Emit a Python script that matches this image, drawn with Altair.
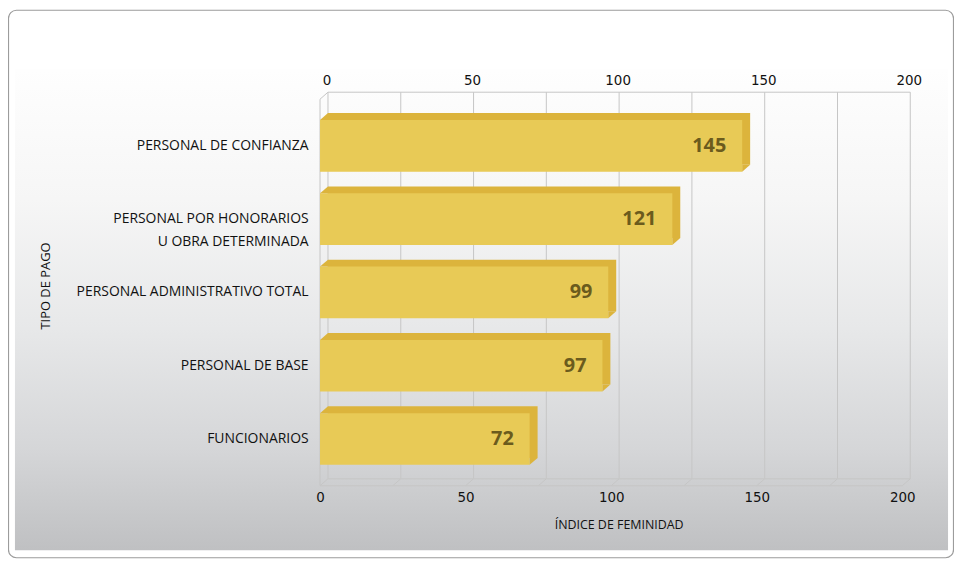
import altair as alt
import pandas as pd

# ---- data ----
categories = [
    "Personal de confianza",
    "Personal por honorarios|u obra determinada",
    "Personal administrativo total",
    "Personal de base",
    "Funcionarios",
]
values = [145, 121, 99, 97, 72]
label_ticks = [0, 50, 100, 150, 200]
grid_ticks = [0, 25, 50, 75, 100, 125, 150, 175, 200]
x_title = "Índice de feminidad"
y_title = "Tipo de pago"

# ---- styling ----
W, H = 586, 389
DX, DY = 8, -7
FRONT = "#e8ca56"
BACK = "#dcb43c"
GRID = "#c6c6c6"
VALUE_COL = "#6b5b1d"
TXT = "#111111"
FONT = "Open Sans"
NUMFONT = "Liberation Sans Narrow, DejaVu Sans Condensed, Roboto"

bars = pd.DataFrame({"tipo": categories, "indice": values})
grid = pd.DataFrame({"t": grid_ticks})
ticks = pd.DataFrame({"t": label_ticks})
one = pd.DataFrame({"k": [0]})
titles_y = pd.DataFrame({"t": [y_title]})
titles_x = pd.DataFrame({"t": [x_title]})

xscale = alt.Scale(domain=[0, 200], nice=False, zero=True)
yscale = alt.Scale(paddingInner=0.295, paddingOuter=0.285)

XAXIS = alt.Axis(
    orient="bottom", values=label_ticks, domain=False, ticks=False, grid=False,
    labelFont=NUMFONT, labelFontSize=15, labelColor=TXT, labelPadding=4,
    labelFlush=False, title=None, zindex=2,
)
YAXIS = alt.Axis(
    orient="left", domain=False, ticks=False, grid=False,
    labelFont=FONT, labelFontSize=14, labelColor=TXT, labelPadding=12,
    labelExpr="split(upper(datum.label), '|')", labelLineHeight=23,
    labelLimit=400, labelBaseline="middle", title=None, zindex=2,
)


def X(field):
    return alt.X(field, scale=xscale, axis=XAXIS, title=None)


def X0(v):
    return alt.X(datum=v, scale=xscale, axis=XAXIS, title=None)


def Yc(**kw):
    return alt.Y("tipo:N", sort=categories, scale=yscale, axis=YAXIS, title=None, **kw)


panel = alt.Chart(one).mark_rect(
    fill=alt.Gradient(
        gradient="linear",
        stops=[
            alt.GradientStop(color="#fefefe", offset=0),
            alt.GradientStop(color="#f6f6f6", offset=0.27),
            alt.GradientStop(color="#e7e8e9", offset=0.54),
            alt.GradientStop(color="#d5d6d8", offset=0.79),
            alt.GradientStop(color="#bfc0c2", offset=1),
        ],
        x1=0, x2=0, y1=0, y2=1,
    )
).encode(x=alt.value(-307), x2=alt.value(632), y=alt.value(-30), y2=alt.value(454))

frame = alt.Chart(one).mark_rect(
    fill="transparent", stroke="#9c9c9c", strokeWidth=1.2, cornerRadius=8
).encode(x=alt.value(-313.5), x2=alt.value(637.5), y=alt.value(-89.5), y2=alt.value(461.5))

# back wall gridlines
wall = alt.Chart(grid).mark_rule(color=GRID, strokeWidth=1, xOffset=DX).encode(
    x=X("t:Q"), y=alt.value(DY), y2=alt.value(H + DY)
)
# floor diagonals
floor = alt.Chart(grid).mark_rule(color=GRID, strokeWidth=1, xOffset=DX, x2Offset=0).encode(
    x=X("t:Q"), x2=alt.X2("t"), y=alt.value(H + DY), y2=alt.value(H)
)
# box edges
edge_top = alt.Chart(one).mark_rule(color=GRID, xOffset=DX, x2Offset=DX).encode(
    x=X0(0), x2=alt.X2(datum=200), y=alt.value(DY)
)
edge_backfloor = alt.Chart(one).mark_rule(color=GRID, xOffset=DX, x2Offset=DX).encode(
    x=X0(0), x2=alt.X2(datum=200), y=alt.value(H + DY)
)
edge_frontfloor = alt.Chart(one).mark_rule(color=GRID).encode(
    x=X0(0), x2=alt.X2(datum=200), y=alt.value(H)
)
edge_left = alt.Chart(one).mark_rule(color=GRID).encode(
    x=X0(0), y=alt.value(0), y2=alt.value(H)
)
edge_diag = alt.Chart(one).mark_rule(color=GRID, xOffset=0, x2Offset=DX).encode(
    x=X0(0), x2=alt.X2(datum=0), y=alt.value(0), y2=alt.value(DY)
)

back_bar = alt.Chart(bars).mark_bar(
    color=BACK, xOffset=DX, x2Offset=DX, yOffset=DY, y2Offset=DY
).encode(x=X("indice:Q"), y=Yc())

front_bar = alt.Chart(bars).mark_bar(color=FRONT).encode(x=X("indice:Q"), y=Yc())

tri_tl = alt.Chart(bars).mark_point(
    shape="M -1 0.875 L 1 -0.875 L 1 0.875 Z", size=64, filled=True, opacity=1,
    color=BACK, strokeWidth=0, xOffset=DX / 2, yOffset=DY / 2,
).encode(x=X0(0), y=Yc(bandPosition=0))

tri_br = alt.Chart(bars).mark_point(
    shape="M -1 0.875 L 1 -0.875 L -1 -0.875 Z", size=64, filled=True, opacity=1,
    color=BACK, strokeWidth=0, xOffset=DX / 2, yOffset=DY / 2,
).encode(x=X("indice:Q"), y=Yc(bandPosition=1))

value_text = alt.Chart(bars).mark_text(
    align="right", baseline="middle", dx=-16, font=FONT, fontWeight="bold",
    fontSize=20, color=VALUE_COL,
).encode(x=X("indice:Q"), y=Yc(), text=alt.Text("indice:Q"))

top_labels = alt.Chart(ticks).mark_text(
    font=NUMFONT, fontSize=15, baseline="alphabetic", align="center", dx=DX - 1, color=TXT
).encode(x=X("t:Q"), y=alt.value(-14.5), text=alt.Text("t:Q"))

ytitle = alt.Chart(titles_y).transform_calculate(u="upper(datum.t)").mark_text(
    angle=270, font=FONT, fontSize=13, color=TXT, baseline="middle", align="center"
).encode(x=alt.value(-276), y=alt.value(188), text="u:N")

xtitle = alt.Chart(titles_x).transform_calculate(u="upper(datum.t)").mark_text(
    font=FONT, fontSize=12.5, color=TXT, baseline="middle", align="center"
).encode(x=alt.value(301), y=alt.value(429), text="u:N")

chart = alt.layer(
    panel, frame, wall, floor, edge_top, edge_backfloor, edge_frontfloor, edge_left, edge_diag,
    back_bar, front_bar, tri_tl, tri_br, value_text, top_labels, ytitle, xtitle,
).properties(
    width=W, height=H,
    padding={"left": 314, "top": 90, "right": 52, "bottom": 73},
    autosize=alt.AutoSizeParams(type="none"),
).configure_view(strokeWidth=0)

chart.save("out.html", embed_options={"renderer": "svg", "actions": False})
